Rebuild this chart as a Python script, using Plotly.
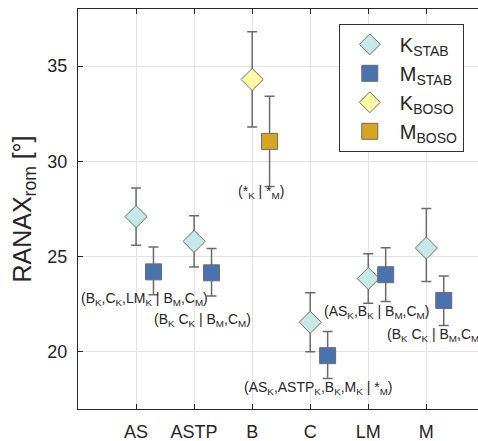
import plotly.graph_objects as go

categories = ["AS", "ASTP", "B", "C", "LM", "M"]
groups = ["STAB", "STAB", "BOSO", "STAB", "STAB", "STAB"]

K_mean = [27.1, 25.8, 34.3, 21.55, 23.85, 25.45]
K_err_up = [1.5, 1.35, 2.5, 1.55, 1.3, 2.07]
K_err_dn = [1.5, 1.35, 2.5, 1.55, 1.3, 1.75]

M_mean = [24.2, 24.15, 31.05, 19.8, 24.05, 22.7]
M_err_up = [1.3, 1.27, 2.37, 1.27, 1.42, 1.28]
M_err_dn = [1.2, 1.22, 2.37, 1.2, 1.4, 1.32]

labels = [
    "(B<sub>K</sub>,C<sub>K</sub>,LM<sub>K</sub> | B<sub>M</sub>,C<sub>M</sub>)",
    "(B<sub>K</sub> C<sub>K</sub> | B<sub>M</sub>,C<sub>M</sub>)",
    "(*<sub>K</sub> | *<sub>M</sub>)",
    "(AS<sub>K</sub>,ASTP<sub>K</sub>,B<sub>K</sub>,M<sub>K</sub> | *<sub>M</sub>)",
    "(AS<sub>K</sub>,B<sub>K</sub> | B<sub>M</sub>,C<sub>M</sub>)",
    "(B<sub>K</sub> C<sub>K</sub> | B<sub>M</sub>,C<sub>M</sub>)",
]
label_y = [22.75, 21.65, 28.38, 18.12, 22.07, 20.91]

FONT = "Liberation Sans, Arial, Helvetica, sans-serif"
TXT = "#262626"
EDGE = "#6b6b6b"

styles = {
    ("K", "STAB"): dict(symbol="diamond", color="#c6e9e7", size=17, name="K<sub>STAB</sub>"),
    ("M", "STAB"): dict(symbol="square", color="#4a72ae", size=16, name="M<sub>STAB</sub>"),
    ("K", "BOSO"): dict(symbol="diamond", color="#ffffa6", size=17, name="K<sub>BOSO</sub>"),
    ("M", "BOSO"): dict(symbol="square", color="#d8a520", size=16, name="M<sub>BOSO</sub>"),
}

fig = go.Figure()
order = [("K", "STAB"), ("M", "STAB"), ("K", "BOSO"), ("M", "BOSO")]
for kind, grp in order:
    st = styles[(kind, grp)]
    idx = [i for i, g in enumerate(groups) if g == grp]
    if kind == "K":
        xs = [i + 1 for i in idx]
        ys = [K_mean[i] for i in idx]
        up = [K_err_up[i] for i in idx]
        dn = [K_err_dn[i] for i in idx]
    else:
        xs = [i + 1.3 for i in idx]
        ys = [M_mean[i] for i in idx]
        up = [M_err_up[i] for i in idx]
        dn = [M_err_dn[i] for i in idx]
    fig.add_trace(go.Scatter(
        x=xs, y=ys, mode="markers", name=st["name"],
        marker=dict(symbol=st["symbol"], size=st["size"], color=st["color"],
                    line=dict(color=EDGE, width=1)),
        error_y=dict(type="data", symmetric=False, array=up, arrayminus=dn,
                     color=EDGE, thickness=1.5, width=5),
    ))

for i, (lab, ly) in enumerate(zip(labels, label_y)):
    fig.add_annotation(x=i + 1.15, y=ly, text=lab, showarrow=False,
                       xanchor="center", yanchor="middle",
                       font=dict(family=FONT, size=14, color=TXT))

fig.update_layout(
    width=478, height=441,
    margin=dict(l=78, r=0, t=9, b=32),
    paper_bgcolor="white", plot_bgcolor="white",
    font=dict(family=FONT, color=TXT),
    showlegend=True,
    legend=dict(x=0.652, y=0.963, xanchor="left", yanchor="top",
                bgcolor="white", bordercolor="#333333", borderwidth=1,
                font=dict(family=FONT, size=20, color=TXT),
                itemwidth=50, tracegroupgap=0),
)
fig.update_xaxes(
    range=[0, 6.89], tickvals=[1, 2, 3, 4, 5, 6], ticktext=categories,
    showgrid=True, gridcolor="#e3e3e3", gridwidth=1,
    showline=True, linecolor="#262626", linewidth=1, mirror="ticks",
    ticks="inside", ticklen=5, tickcolor="#262626", ticklabelstandoff=6,
    tickfont=dict(family=FONT, size=18, color=TXT), zeroline=False,
)
fig.update_yaxes(
    range=[17, 38], tickvals=[20, 25, 30, 35],
    showgrid=True, gridcolor="#e3e3e3", gridwidth=1,
    showline=True, linecolor="#262626", linewidth=1, mirror=False,
    ticks="inside", ticklen=5, tickcolor="#262626", ticklabelstandoff=6,
    tickfont=dict(family=FONT, size=18, color=TXT), zeroline=False,
    title=dict(text="RANAX<sub>rom</sub> [°]", font=dict(family=FONT, size=25, color=TXT), standoff=8),
)

fig.write_html("out.html")
